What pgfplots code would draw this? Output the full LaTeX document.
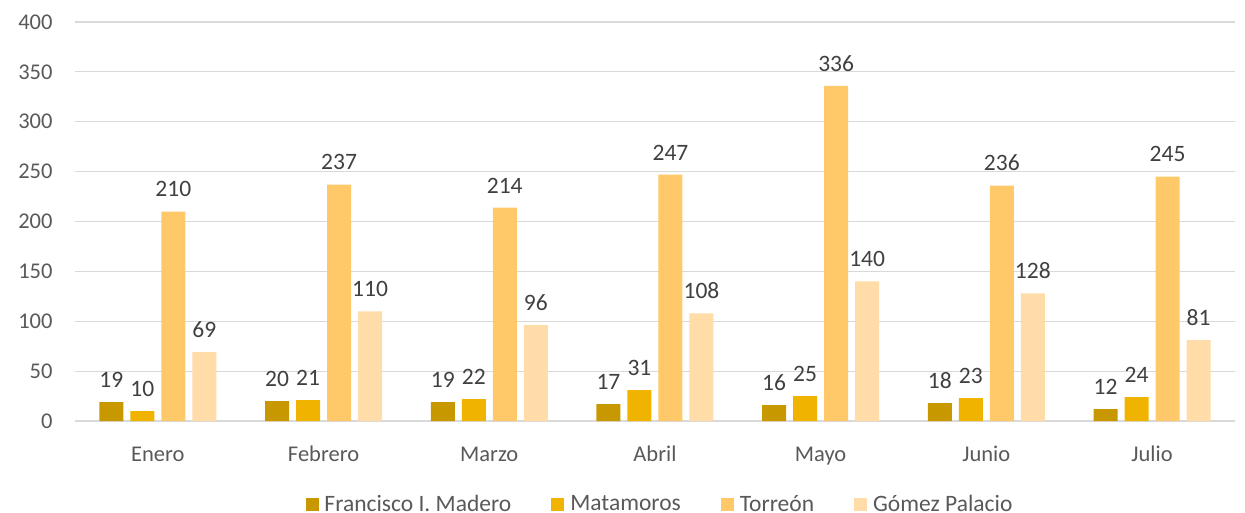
\documentclass[border=0pt]{standalone}
\usepackage{pgfplots}
\pgfplotsset{compat=1.18}
\usepackage{fontspec}
\setmainfont{Carlito}
\definecolor{cA}{HTML}{C89800}
\definecolor{cB}{HTML}{F0B400}
\definecolor{cC}{HTML}{FFC868}
\definecolor{cD}{HTML}{FFDCA8}
\definecolor{tickc}{HTML}{595959}
\definecolor{labc}{HTML}{404040}
\definecolor{gridc}{HTML}{D9D9D9}
\begin{document}
\begin{tikzpicture}
\useasboundingbox (-75bp,-92bp) rectangle (1170bp,421bp);
\begin{axis}[
  scale only axis, width=1160bp, height=399bp,
  at={(0,0)}, anchor=south west,
  ybar=7bp, bar width=24bp,
  xmin=-0.5, xmax=6.5, ymin=0, ymax=400,
  xtick={0,...,6},
  xticklabels={Enero,Febrero,Marzo,Abril,Mayo,Junio,Julio},
  ytick={0,50,...,400},
  ymajorgrids, xmajorgrids=false, grid style={draw=gridc, line width=1.2bp},
  axis x line*=bottom, axis y line*=left,
  x axis line style={draw=gridc, line width=1.2bp, -},
  y axis line style={draw=none},
  major tick length=0pt,
  tick label style={font=\fontsize{22.5bp}{26bp}\selectfont, text=tickc},
  yticklabel style={xshift=-19bp},
  xticklabel style={yshift=-22bp, text height=15bp, text depth=5bp},
  /pgf/number format/assume math mode=true,
  nodes near coords,
  every node near coord/.append style={font=\fontsize{23.5bp}{27bp}\selectfont, text=labc, yshift=11bp},
  legend style={at={(rel axis cs:0.5,0)}, yshift=-83bp, xshift=5bp, anchor=center, draw=none,
    inner sep=0pt, fill=none,
    font=\fontsize{23.5bp}{27bp}\selectfont, text=tickc, legend columns=-1,
    /tikz/every even column/.append style={column sep=38bp}},
  legend image code/.code={\fill[#1] (0bp,-6.5bp) rectangle (13bp,6.5bp); \path (17bp,0bp);},
  clip=false,
]
\addplot[fill=cA, draw=none] coordinates {(0,19) (1,20) (2,19) (3,17) (4,16) (5,18) (6,12)};
\addplot[fill=cB, draw=none] coordinates {(0,10) (1,21) (2,22) (3,31) (4,25) (5,23) (6,24)};
\addplot[fill=cC, draw=none] coordinates {(0,210) (1,237) (2,214) (3,247) (4,336) (5,236) (6,245)};
\addplot[fill=cD, draw=none] coordinates {(0,69) (1,110) (2,96) (3,108) (4,140) (5,128) (6,81)};
\legend{Francisco I. Madero, Matamoros, Torreón, Gómez Palacio}
\end{axis}
\end{tikzpicture}
\end{document}
